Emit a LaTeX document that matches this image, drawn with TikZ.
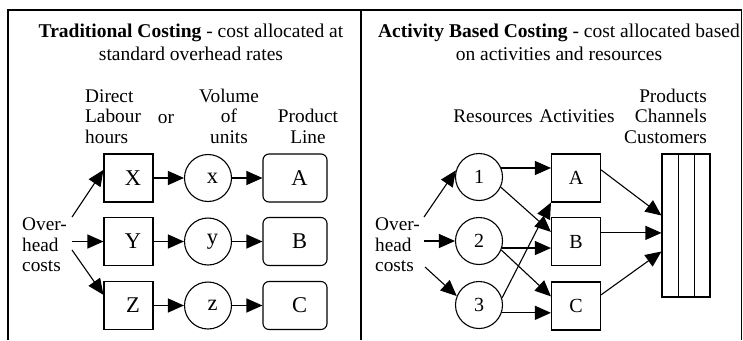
\documentclass[tikz,border=0pt]{standalone}
\usepackage{fontspec}
\setmainfont{Liberation Serif}
\usetikzlibrary{arrows.meta}
\tikzset{
  cell/.style={draw, line width=1.1pt, minimum width=49pt, minimum height=48pt,
    inner sep=0pt, font=\fontsize{20}{20.5}\selectfont},
  lcell/.style={cell, font=\fontsize{22.5}{23}\selectfont, execute at begin node=\hspace{9pt}},
  pool/.style={cell, circle, minimum size=47pt},
  lpool/.style={lcell, circle, minimum size=47pt},
  prod/.style={lcell, rounded corners=6pt, minimum width=64pt},
  lbl/.style={inner sep=0pt, font=\fontsize{19.3}{20.5}\selectfont},
  head/.style={inner sep=0pt, align=center, font=\fontsize{19.5}{23}\selectfont},
  flow/.style={-{Triangle[length=16pt,width=14pt]}, line width=1.1pt}
}
\begin{document}
\begin{tikzpicture}[x=1pt, y=-1pt]
  \useasboundingbox (0,0) rectangle (743,340);
  % frame
  \draw[line width=1.3pt] (8,340) -- (8,10) -- (741.5,10) -- (741.5,340);
  \draw[line width=1.3pt] (361,10) -- (361,340);

  % traditional costing
  \node[head, anchor=base] (tL) at (191,60) {\textbf{Traditional Costing} - cost allocated at\\standard overhead rates};
  \node[lbl, align=left, anchor=base west] (drv) at (85,143) {Direct\\Labour\\hours};
  \node[lbl, anchor=base] (orL) at (166,123) {or};
  \node[lbl, align=center, anchor=base] (vol) at (229,143) {Volume\\of\\units};
  \node[lbl, align=center, anchor=base] (pl) at (308,143) {Product\\Line};
  \node[lbl, align=left] (ohL) at (44.5,245) {Over-\\head\\costs};

  \node[lcell] (dX) at (128.5,178) {X};
  \node[lcell] (dY) at (128.5,241.5) {Y};
  \node[lcell] (dZ) at (128.5,305.5) {Z};
  \node[lpool] (vx) at (208,178) {x};
  \node[lpool] (vy) at (208,241.5) {y};
  \node[lpool] (vz) at (208,305.5) {z};
  \node[prod] (pA) at (295,178) {A};
  \node[prod] (pB) at (295,241.5) {B};
  \node[prod] (pC) at (295,305.5) {C};

  \draw[flow] ([xshift=5pt,yshift=28pt]ohL.east) -- (dX.162);
  \draw[flow] ([xshift=5pt,yshift=3.5pt]ohL.east) -- (dY.west);
  \draw[flow] ([xshift=5pt,yshift=-5pt]ohL.east) -- (dZ.157);
  \draw[flow] (dX) -- (vx);
  \draw[flow] (vx) -- (pA);
  \draw[flow] (dY) -- (vy);
  \draw[flow] (vy) -- (pB);
  \draw[flow] (dZ) -- (vz);
  \draw[flow] (vz) -- (pC);

  % activity based costing
  \node[head, anchor=base] (tR) at (559,60) {\textbf{Activity Based Costing} - cost allocated based\\on activities and resources};
  \node[lbl, anchor=base] (res) at (493,122) {Resources};
  \node[lbl, anchor=base] (act) at (577,122) {Activities};
  \node[lbl, align=right, anchor=base east] (pcc) at (707,143) {Products\\Channels\\Customers};
  \node[lbl, align=left] (ohR) at (397.5,245) {Over-\\head\\costs};

  \node[pool] (r1) at (479,177) {1};
  \node[pool] (r2) at (479,241) {2};
  \node[pool] (r3) at (479,305) {3};
  \node[cell] (aA) at (576,178) {A};
  \node[cell] (aB) at (576,241.5) {B};
  \node[cell] (aC) at (576,306) {C};
  \node[cell, minimum width=48pt, minimum height=143pt] (cust) at (686,225.5) {};
  \foreach \dx in {17,33}
    \draw[line width=1.1pt] ([xshift=\dx pt]cust.north west) -- ([xshift=\dx pt]cust.south west);

  \draw[flow] ([xshift=4pt,yshift=28pt]ohR.east) -- (r1.164);
  \draw[flow] ([xshift=4pt,yshift=4pt]ohR.east) -- (r2.west);
  \draw[flow] ([xshift=5pt,yshift=-22pt]ohR.east) -- (r3.158);
  \draw[flow] (r1.22) -- (r1.22 -| aA.west);
  \draw[flow] (r1.-25) -- (aB.159);
  \draw[flow] (r2.-17) -- (r2.-17 -| aB.west);
  \draw[flow] (r2.-22) -- (aC.159);
  \draw[flow] (r3.17) -- (aA.south west);
  \draw[flow] (r3.-19) -- (r3.-19 -| aC.west);
  \draw[flow] (aA.18) -- ([yshift=10pt]cust.west);
  \draw[flow] (aB.19) -- (aB.19 -| cust.west);
  \draw[flow] (aC.24) -- ([yshift=-26pt]cust.west);
\end{tikzpicture}
\end{document}
